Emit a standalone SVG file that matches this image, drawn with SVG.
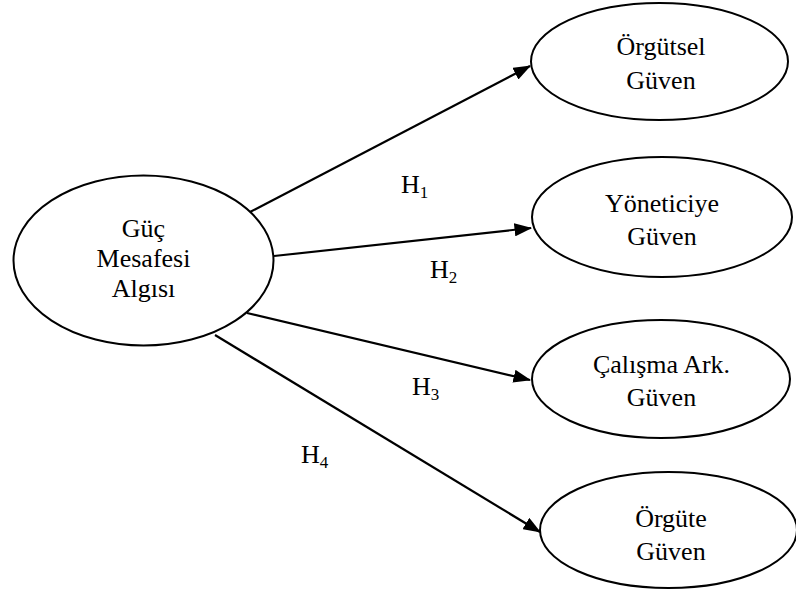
<svg xmlns="http://www.w3.org/2000/svg" width="796" height="593" viewBox="0 0 796 593">
<defs>
<style>
.node ellipse{fill:#fff;stroke:#000;stroke-width:2}
text{font-family:"Liberation Serif","Times New Roman",serif;font-size:26px;fill:#000}
.lbl{text-anchor:start}
.c{text-anchor:middle}
.sub{font-size:17px}
.edge{stroke:#000;stroke-width:2.2;fill:none;marker-end:url(#ah)}
</style>
<marker id="ah" markerWidth="8" markerHeight="6" refX="7.5" refY="3" orient="auto" markerUnits="strokeWidth">
<path d="M0,0 L8,3 L0,6 Z" fill="#000"/>
</marker>
</defs>
<g id="connectors">
<line class="edge" x1="250" y1="212" x2="530" y2="66"/>
<line class="edge" x1="274" y1="256" x2="531" y2="228"/>
<line class="edge" x1="247" y1="313" x2="530" y2="380"/>
<line class="edge" x1="215" y1="335" x2="540" y2="532"/>
</g>
<g id="node-guc" class="node">
<ellipse cx="143.5" cy="260.5" rx="130" ry="85"/>
<text class="c" x="143.5" y="237">Güç</text>
<text class="c" x="143.5" y="267">Mesafesi</text>
<text class="c" x="143.5" y="297">Algısı</text>
</g>
<g id="node-orgutsel" class="node">
<ellipse cx="659.5" cy="61.5" rx="128.5" ry="58.5"/>
<text class="c" x="661" y="55">Örgütsel</text>
<text class="c" x="661" y="89">Güven</text>
</g>
<g id="node-yonetici" class="node">
<ellipse cx="662" cy="217" rx="130" ry="60"/>
<text class="c" x="662" y="212">Yöneticiye</text>
<text class="c" x="662" y="245">Güven</text>
</g>
<g id="node-calisma" class="node">
<ellipse cx="661" cy="379" rx="129" ry="59"/>
<text class="c" x="661.5" y="373">Çalışma Ark.</text>
<text class="c" x="661.5" y="406">Güven</text>
</g>
<g id="node-orgute" class="node">
<ellipse cx="668.5" cy="530" rx="128.5" ry="58"/>
<text class="c" x="671" y="527">Örgüte</text>
<text class="c" x="671" y="560">Güven</text>
</g>
<g id="labels">
<text class="lbl" x="401" y="193">H<tspan class="sub" dy="5">1</tspan></text>
<text class="lbl" x="430" y="278">H<tspan class="sub" dy="5">2</tspan></text>
<text class="lbl" x="412" y="395">H<tspan class="sub" dy="5">3</tspan></text>
<text class="lbl" x="301" y="463">H<tspan class="sub" dy="5">4</tspan></text>
</g>
</svg>
